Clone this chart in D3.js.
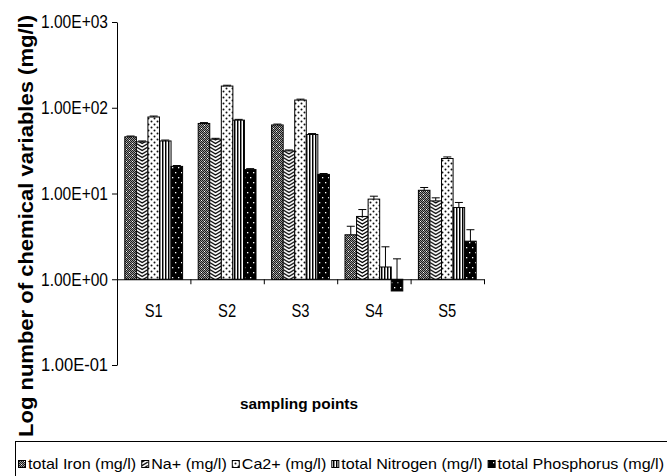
<!DOCTYPE html>
<head>
  <meta charset="utf-8">
  <script src="https://cdn.jsdelivr.net/npm/d3@7"></script>
  <style>
    body { margin: 0; background: white; }
    text { font-family: "Liberation Sans", Arial, sans-serif; fill: black; }
    .bar { stroke: black; stroke-width: 1; }
    .err { stroke: black; stroke-width: 1; fill: none; }
  </style>
</head>

<body>
  <script>
const W = 667;
const H = 476;

// data
const categories = ["S1", "S2", "S3", "S4", "S5"];
const seriesNames = ["total Iron (mg/l)", "Na+ (mg/l)", "Ca2+ (mg/l)", "total Nitrogen (mg/l)", "total Phosphorus (mg/l)"];
const iron = [45.8, 65.6, 63, 3.3, 10.9];
const ironErr = [1, 1.5, 1.5, 0.85, 0.85];
const sodium = [40, 43, 31.4, 5.4, 8.2];
const sodiumErr = [1, 1, 0.8, 1.1, 0.7];
const calcium = [78, 179, 123, 8.6, 25.6];
const calciumErr = [2, 4, 3, 0.7, 1.1];
const nitrogen = [41, 71.7, 48.8, 1.39, 6.86];
const nitrogenErr = [1, 1.5, 1.2, 1.0, 1.0];
const phosphorus = [20.7, 19, 16.7, 0.73, 2.78];
const phosphorusErr = [0.5, 0.5, 0.4, 1.0, 1.0];
const yTicks = [0.1, 1, 10, 100, 1000];

const values = [iron, sodium, calcium, nitrogen, phosphorus];
const errors = [ironErr, sodiumErr, calciumErr, nitrogenErr, phosphorusErr];
const patIds = ["pIron", "pNa", "pCa", "pN", "pP"];

var svg = d3.select("body").append("svg")
  .attr("width", W)
  .attr("height", H);

var y = d3.scaleLog()
  .domain([0.1, 1000])
  .range([365, 22]);

var x0 = d3.scaleBand()
  .domain(categories)
  .range([117, 484]);

var x1 = d3.scaleBand()
  .domain(seriesNames)
  .range([7.8, x0.step() - 7.8]);

// squeeze text horizontally to a target width
function fit(sel, w) {
  sel.attr("textLength", w).attr("lengthAdjust", "spacingAndGlyphs");
}

//patterns
var defs = svg.append("defs");

// dark checker with white specks
var pIron = defs.append("pattern").attr("id", "pIron")
  .attr("patternUnits", "userSpaceOnUse").attr("width", 6).attr("height", 6);
pIron.append("rect").attr("width", 6).attr("height", 6).attr("fill", "#9a9a9a");
for (let i = 0; i < 6; i++)
  for (let j = 0; j < 6; j++)
    if ((i + j) % 2 == 0)
      pIron.append("rect").attr("x", i).attr("y", j).attr("width", 1).attr("height", 1).attr("fill", "#1a1a1a");
pIron.append("rect").attr("x", 3).attr("y", 2).attr("width", 1).attr("height", 1).attr("fill", "white");
pIron.append("rect").attr("x", 0).attr("y", 5).attr("width", 1).attr("height", 1).attr("fill", "white");

// chevrons, one tile per category so they line up with the bar
var pNa = defs.append("pattern").attr("id", "pNa")
  .attr("patternUnits", "userSpaceOnUse")
  .attr("x", x0.range()[0]).attr("y", 0)
  .attr("width", x0.step()).attr("height", 7);
var naX = x1(seriesNames[1]), naW = x1.bandwidth();
pNa.append("rect").attr("width", x0.step()).attr("height", 7).attr("fill", "white");
pNa.append("path")
  .attr("d", `M${naX},-3.5 L${naX + naW / 2},0 L${naX + naW},-3.5 M${naX},0 L${naX + naW / 2},3.5 L${naX + naW},0 M${naX},3.5 L${naX + naW / 2},7 L${naX + naW},3.5 M${naX},7 L${naX + naW / 2},10.5 L${naX + naW},7`)
  .attr("stroke", "black").attr("stroke-width", 1.3).attr("fill", "none");

var pCa = defs.append("pattern").attr("id", "pCa")
  .attr("patternUnits", "userSpaceOnUse").attr("width", 6).attr("height", 6);
pCa.append("rect").attr("width", 6).attr("height", 6).attr("fill", "white");
pCa.append("circle").attr("cx", 1.5).attr("cy", 1.5).attr("r", 1).attr("fill", "#111");
pCa.append("circle").attr("cx", 4.5).attr("cy", 4.5).attr("r", 1).attr("fill", "#111");

var pN = defs.append("pattern").attr("id", "pN")
  .attr("patternUnits", "userSpaceOnUse").attr("width", 3).attr("height", 3);
pN.append("rect").attr("width", 3).attr("height", 3).attr("fill", "white");
pN.append("rect").attr("x", 0).attr("width", 1).attr("height", 3).attr("fill", "black");
pN.append("rect").attr("x", 1).attr("width", 1).attr("height", 3).attr("fill", "#888");

var pP = defs.append("pattern").attr("id", "pP")
  .attr("patternUnits", "userSpaceOnUse").attr("width", 6).attr("height", 10);
pP.append("rect").attr("width", 6).attr("height", 10).attr("fill", "black");
pP.append("rect").attr("x", 1).attr("y", 2).attr("width", 1.3).attr("height", 1.3).attr("fill", "white");
pP.append("rect").attr("x", 4).attr("y", 7).attr("width", 1.3).attr("height", 1.3).attr("fill", "white");

//bars
var groups = svg.selectAll("g.series")
  .data(seriesNames)
  .enter().append("g")
  .attr("class", "series");

groups.each(function(name, si) {
  var g = d3.select(this);
  var rows = categories.map((c, ci) => ({ c: c, v: values[si][ci], e: errors[si][ci] }));

  g.selectAll("rect")
    .data(rows)
    .enter().append("rect")
    .attr("class", "bar")
    .attr("x", d => x0(d.c) + x1(name))
    .attr("width", x1.bandwidth())
    .attr("y", d => Math.min(y(d.v), y(1)))
    .attr("height", d => Math.abs(y(1) - y(d.v)))
    .attr("fill", "url(#" + patIds[si] + ")");

  var cx = d => x0(d.c) + x1(name) + x1.bandwidth() / 2;
  g.selectAll("line.stem")
    .data(rows)
    .enter().append("line")
    .attr("class", "err stem")
    .attr("x1", cx).attr("x2", cx)
    .attr("y1", d => y(d.v))
    .attr("y2", d => y(d.v + d.e));
  g.selectAll("line.cap")
    .data(rows)
    .enter().append("line")
    .attr("class", "err cap")
    .attr("x1", d => cx(d) - 4).attr("x2", d => cx(d) + 4)
    .attr("y1", d => y(d.v + d.e))
    .attr("y2", d => y(d.v + d.e));
});

//y axis
var yaxis = d3.axisLeft(y)
  .tickValues(yTicks)
  .tickSize(5)
  .tickSizeOuter(0)
  .tickFormat(d => {
    let e = Math.round(Math.log10(d));
    return "1.00E" + (e < 0 ? "-" : "+") + String(Math.abs(e)).padStart(2, "0");
  });

var yg = svg.append("g")
  .attr("transform", "translate(117,0)")
  .call(yaxis);
yg.selectAll("text").style("font-size", "18px").attr("x", -9);
yg.selectAll("text").each(function() { fit(d3.select(this), 67); });

//x axis: boundary ticks at y = 1
var xb = d3.scaleLinear().domain([0, categories.length]).range(x0.range());
var xg = svg.append("g")
  .attr("transform", "translate(0," + y(1) + ")")
  .call(d3.axisBottom(xb).ticks(categories.length).tickSize(5).tickSizeOuter(0).tickFormat(""));

svg.selectAll("text.cat")
  .data(categories)
  .enter().append("text")
  .attr("class", "cat")
  .attr("x", d => x0(d) + x0.bandwidth() / 2)
  .attr("y", y(1) + 38)
  .attr("text-anchor", "middle")
  .style("font-size", "18px")
  .text(d => d)
  .call(fit, 18);

svg.selectAll(".domain, .tick line").attr("stroke", "black");

//titles
svg.append("text")
  .attr("x", 299)
  .attr("y", 409)
  .attr("text-anchor", "middle")
  .style("font-size", "15px")
  .style("font-weight", "bold")
  .text("sampling points")
  .call(fit, 118);

svg.append("text")
  .attr("transform", "translate(33,226) rotate(-90)")
  .attr("text-anchor", "middle")
  .style("font-size", "20px")
  .style("font-weight", "bold")
  .text("Log number of chemical variables (mg/l)")
  .call(fit, 422);

//legend
svg.append("rect")
  .attr("x", 15.5).attr("y", 441.5)
  .attr("width", 700).attr("height", 60)
  .attr("fill", "white").attr("stroke", "black");

var leg = svg.append("g");
var items = leg.selectAll("g")
  .data(seriesNames)
  .enter().append("g");
items.append("text")
  .attr("y", 469)
  .style("font-size", "15px")
  .text(d => d);

var lens = [];
items.select("text").each(function() { lens.push(this.getComputedTextLength()); });
const SW = 7, GAP1 = 3, GAP2 = 5, L0 = 18, L1 = 664;
var k = (L1 - L0 - seriesNames.length * (SW + GAP1) - (seriesNames.length - 1) * GAP2) / d3.sum(lens);
var pos = L0;
items.each(function(d, i) {
  var it = d3.select(this);
  it.insert("rect", "text")
    .attr("x", pos + 0.5).attr("y", 460.5)
    .attr("width", SW).attr("height", SW)
    .attr("fill", "url(#" + patIds[i] + ")")
    .attr("stroke", "black");
  it.select("text").attr("x", pos + SW + GAP1).call(fit, lens[i] * k);
  pos += SW + GAP1 + lens[i] * k + GAP2;
});
  </script>
</body>
